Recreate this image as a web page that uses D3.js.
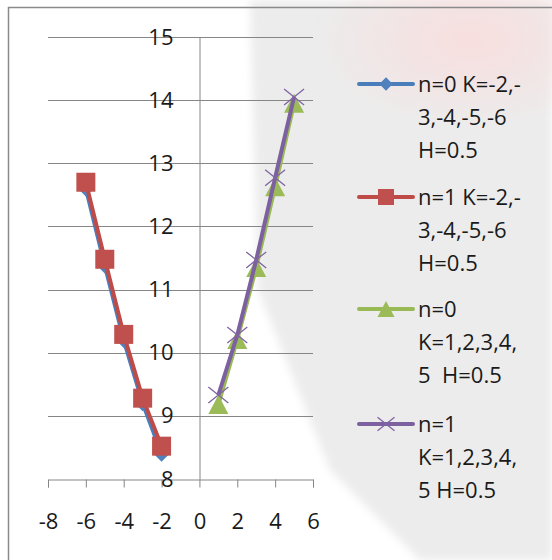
<!DOCTYPE html>
<html>
<head>
<meta charset="utf-8">
<script src="https://cdn.jsdelivr.net/npm/d3@7"></script>
<style>
  body { margin: 0; background: #fff; }
  text { font-family: "Open Sans", "Liberation Sans", sans-serif; fill: #1a1a1a; white-space: pre; }
</style>
</head>
<body>
<div id="chart-area"></div>
<script>
// series
let xNeg = [-6, -5, -4, -3, -2];
let n0Neg = [12.6, 11.38, 10.2, 9.2, 8.4];
let n1Neg = [12.7, 11.48, 10.29, 9.28, 8.52];
let xPos = [1, 2, 3, 4, 5];
let n0Pos = [9.18, 10.21, 11.35, 12.63, 13.95];
let n1Pos = [9.33, 10.28, 11.47, 12.77, 14.05];
let xTicks = [-8, -6, -4, -2, 0, 2, 4, 6];
let yTicks = [8, 9, 10, 11, 12, 13, 14, 15];
let legendLabels = [
    ["n=0 K=-2,-", "3,-4,-5,-6", "H=0.5"],
    ["n=1 K=-2,-", "3,-4,-5,-6", "H=0.5"],
    ["n=0", "K=1,2,3,4,", "5  H=0.5"],
    ["n=1", "K=1,2,3,4,", "5 H=0.5"]
];

let width = 552, height = 560;

let svg = d3.select("#chart-area")
            .append("svg")
            .attr("width", width)
            .attr("height", height);

// faint watermark behind the chart
let defs = svg.append("defs");
let glow = defs.append("radialGradient").attr("id", "glow");
glow.append("stop").attr("offset", "0%").attr("stop-color", "#f8dede");
glow.append("stop").attr("offset", "100%").attr("stop-color", "#f8dede").attr("stop-opacity", 0);
let blur = defs.append("filter").attr("id", "soft");
blur.append("feGaussianBlur").attr("stdDeviation", 4);
svg.append("path")
    .attr("d", "M250,0 L552,0 L552,560 L420,560 L330,470 L258,290 Z")
    .attr("fill", "#ececec")
    .attr("filter", "url(#soft)");
svg.append("ellipse")
    .attr("cx", 470).attr("cy", 40).attr("rx", 160).attr("ry", 90)
    .attr("fill", "url(#glow)");

// chart border (only left and top visible)
svg.append("path")
    .attr("d", "M8.5,560 L8.5,7.5 L552,7.5")
    .attr("fill", "none")
    .attr("stroke", "#8a8a8a")
    .attr("stroke-width", 1.5);

let x = d3.scaleLinear().domain([-8, 6]).range([48, 313]);
let y = d3.scaleLinear().domain([8, 15]).range([479, 37]);

let g = svg.append("g");

// horizontal gridlines
g.selectAll(".grid")
    .data(yTicks.filter(d => d > 8))
    .enter().append("line")
        .attr("x1", x(-8)).attr("x2", x(6))
        .attr("y1", d => Math.round(y(d)) + 0.5)
        .attr("y2", d => Math.round(y(d)) + 0.5)
        .attr("stroke", "#868686");

// x axis at y = 8
let xAxis = d3.axisBottom(x).tickValues(xTicks).tickSize(8).tickPadding(26)
    .tickFormat(d => String(d));
let xAxisGroup = g.append("g")
    .attr("transform", "translate(0," + (Math.round(y(8)) + 0.5) + ")")
    .call(xAxis);
xAxisGroup.select(".domain").attr("stroke", "#868686");
xAxisGroup.selectAll(".tick line").attr("stroke", "#868686");
xAxisGroup.selectAll("text")
    .attr("font-size", "22px")
    .attr("font-family", "Open Sans, sans-serif")
    .attr("fill", "#1a1a1a");

// y axis at x = 0
let yAxis = d3.axisLeft(y).tickValues(yTicks).tickSize(0).tickPadding(26)
    .tickFormat(d => String(d));
let yAxisGroup = g.append("g")
    .attr("transform", "translate(" + (Math.round(x(0)) + 0.5) + ",0)")
    .call(yAxis);
yAxisGroup.select(".domain").attr("stroke", "#868686");
yAxisGroup.selectAll("text")
    .attr("font-size", "22px")
    .attr("font-family", "Open Sans, sans-serif")
    .attr("fill", "#1a1a1a");

let series = [
    {xs: xNeg, ys: n0Neg, line: "#4A7EBB", fill: "#4F81BD", shape: "diamond"},
    {xs: xNeg, ys: n1Neg, line: "#BE4B48", fill: "#C0504D", shape: "square"},
    {xs: xPos, ys: n0Pos, line: "#98B954", fill: "#9BBB59", shape: "triangle"},
    {xs: xPos, ys: n1Pos, line: "#7D60A0", fill: "#8064A2", shape: "x"}
];

let lineGen = d3.line().x(d => x(d[0])).y(d => y(d[1]));

function drawMarker(sel, s, size) {
    if (s.shape == "diamond") {
        sel.append("path")
            .attr("d", d3.symbol().type(d3.symbolDiamond2).size(size * size * 0.5)())
            .attr("fill", s.fill);
    } else if (s.shape == "square") {
        sel.append("rect")
            .attr("x", -size / 2).attr("y", -size / 2)
            .attr("width", size).attr("height", size)
            .attr("fill", s.fill);
    } else if (s.shape == "triangle") {
        let h = size * 0.95;
        sel.append("path")
            .attr("d", "M0," + (-h / 2) + " L" + (size / 2) + "," + (h / 2) + " L" + (-size / 2) + "," + (h / 2) + " Z")
            .attr("fill", s.fill);
    } else {
        let r = size / 2;
        sel.append("path")
            .attr("d", "M" + (-r) + "," + (-r * 0.8) + " L" + r + "," + (r * 0.8) + " M" + (-r) + "," + (r * 0.8) + " L" + r + "," + (-r * 0.8))
            .attr("stroke", s.fill)
            .attr("stroke-width", 1.3)
            .attr("fill", "none");
    }
}

let markerSize = {diamond: 18, square: 19, triangle: 20, x: 20};

series.forEach(function(s) {
    let pts = s.xs.map((v, i) => [v, s.ys[i]]);
    let sg = g.append("g");
    sg.append("path")
        .datum(pts)
        .attr("d", lineGen)
        .attr("fill", "none")
        .attr("stroke", s.line)
        .attr("stroke-width", 4)
        .attr("stroke-linejoin", "round");
    sg.selectAll(".pt")
        .data(pts)
        .enter().append("g")
            .attr("transform", d => "translate(" + x(d[0]) + "," + y(d[1]) + ")")
            .each(function() { drawMarker(d3.select(this), s, markerSize[s.shape]); });
});

// legend
let legendTop = [84, 197, 309, 424];
let legend = svg.append("g");
series.forEach(function(s, i) {
    let lg = legend.append("g").attr("transform", "translate(0," + legendTop[i] + ")");
    lg.append("line")
        .attr("x1", 359).attr("x2", 413)
        .attr("stroke", s.line)
        .attr("stroke-width", 4)
        .attr("stroke-linecap", "round");
    let mk = lg.append("g").attr("transform", "translate(386,0)");
    drawMarker(mk, s, markerSize[s.shape] - 3);
    legendLabels[i].forEach(function(t, j) {
        lg.append("text")
            .attr("x", 418)
            .attr("y", j * 33)
            .attr("dy", "0.35em")
            .attr("font-size", "22px")
            .text(t);
    });
});
</script>
</body>
</html>
